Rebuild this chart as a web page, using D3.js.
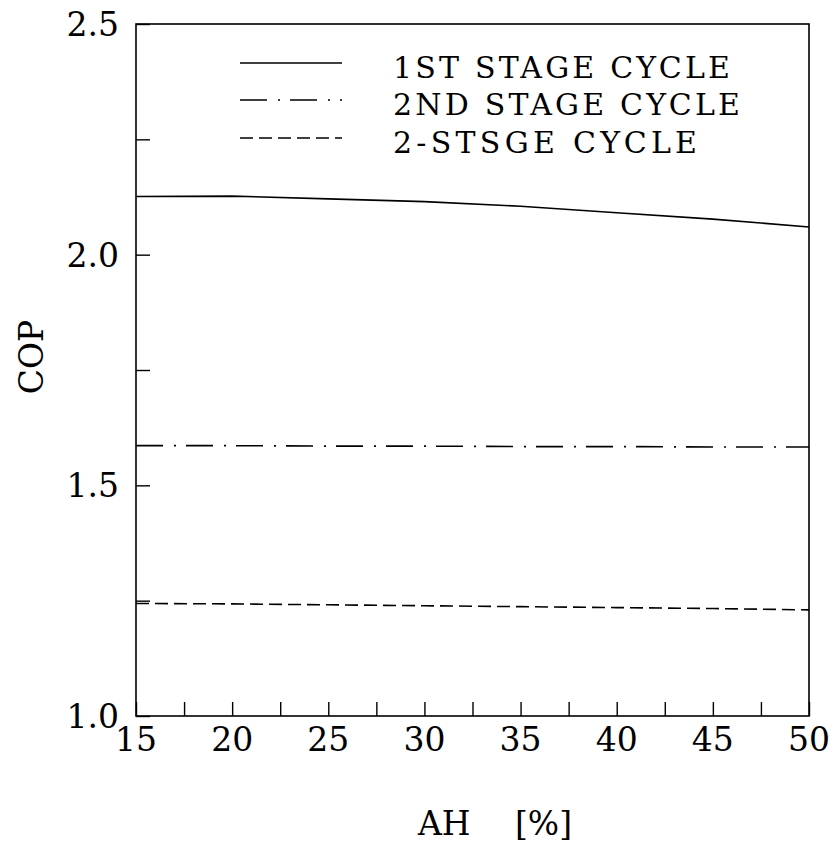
<!DOCTYPE html>
<html>
<head>
<meta charset="utf-8">
<script src="https://cdn.jsdelivr.net/npm/d3@7"></script>
<style>
  html, body { margin: 0; padding: 0; background: #fff; }
  svg { display: block; }
  text { font-family: "DejaVu Serif", "Liberation Serif", serif; fill: #000; }
</style>
</head>
<body>
<script>
// ---- data ----
const ahValues = [15, 20, 25, 30, 35, 40, 45, 50];
const cop1stStage = [2.126, 2.127, 2.121, 2.115, 2.105, 2.091, 2.077, 2.060];
const cop2ndStage = [1.586, 1.586, 1.585, 1.585, 1.584, 1.584, 1.583, 1.583];
const cop2Stage   = [1.244, 1.243, 1.241, 1.239, 1.237, 1.235, 1.233, 1.230];
const seriesNames = ["1ST STAGE CYCLE", "2ND STAGE CYCLE", "2-STSGE CYCLE"];
const xTickValues = [15, 20, 25, 30, 35, 40, 45, 50];
const xMinorTicks = [17.5, 22.5, 27.5, 32.5, 37.5, 42.5, 47.5];
const yTickValues = [1.0, 1.5, 2.0, 2.5];
const yMinorTicks = [1.25, 1.75, 2.25];
const xTitle = "AH";
const xUnit = "[%]";
const yTitle = "COP";

// ---- layout ----
const W = 837, H = 846;
const pLeft = 136, pRight = 809, pTop = 24, pBottom = 716;

const svg = d3.select("body").append("svg").attr("width", W).attr("height", H);

const x = d3.scaleLinear().domain([15, 50]).range([pLeft, pRight]);
const y = d3.scaleLinear().domain([1.0, 2.5]).range([pBottom, pTop]);

// frame
svg.append("rect")
  .attr("x", pLeft).attr("y", pTop)
  .attr("width", pRight - pLeft).attr("height", pBottom - pTop)
  .attr("fill", "none").attr("stroke", "#000").attr("stroke-width", 1.6);

// bottom axis ticks (inward)
const xAxis = d3.axisBottom(x).tickValues(xTickValues.concat(xMinorTicks))
  .tickSizeInner(-14).tickSizeOuter(0).tickFormat("");
const gx = svg.append("g").attr("transform", `translate(0,${pBottom})`).call(xAxis);
gx.select(".domain").remove();
gx.selectAll("line").attr("stroke", "#000").attr("stroke-width", 1.4);

// x tick labels
svg.append("g").selectAll("text").data(xTickValues).join("text")
  .attr("x", d => x(d)).attr("y", pBottom + 35)
  .attr("text-anchor", "middle").attr("font-size", 33)
  .text(d => d3.format("d")(d));

// left axis ticks (inward)
const yAxis = d3.axisLeft(y).tickValues(yTickValues.concat(yMinorTicks))
  .tickSizeInner(-14).tickSizeOuter(0).tickFormat("");
const gy = svg.append("g").attr("transform", `translate(${pLeft},0)`).call(yAxis);
gy.select(".domain").remove();
gy.selectAll("line").attr("stroke", "#000").attr("stroke-width", 1.4);

// y tick labels
svg.append("g").selectAll("text").data(yTickValues).join("text")
  .attr("x", pLeft - 17).attr("y", d => y(d) + 12)
  .attr("text-anchor", "end").attr("font-size", 33)
  .text(d => d3.format(".1f")(d));

// axis titles
svg.append("text").attr("x", 418).attr("y", 835).attr("font-size", 33).text(xTitle);
svg.append("text").attr("x", 515).attr("y", 835).attr("font-size", 33).text(xUnit);
svg.append("text")
  .attr("transform", "translate(43,357) rotate(-90)")
  .attr("text-anchor", "middle").attr("font-size", 33).text(yTitle);

// series lines
const styles = [
  { dash: null },
  { dash: "27,11,2,10" },
  { dash: "13,6" }
];
const seriesData = [cop1stStage, cop2ndStage, cop2Stage];
const line = d3.line().x(d => x(d[0])).y(d => y(d[1]));

seriesData.forEach((vals, i) => {
  const pts = ahValues.map((a, j) => [a, vals[j]]);
  svg.append("path").datum(pts)
    .attr("d", line)
    .attr("fill", "none").attr("stroke", "#000").attr("stroke-width", 1.6)
    .attr("stroke-dasharray", styles[i].dash);
});

// legend
const legendY = [63, 100, 138];
const legendTextLen = [337, 347, 304];
seriesNames.forEach((name, i) => {
  svg.append("line")
    .attr("x1", 240).attr("x2", 342)
    .attr("y1", legendY[i]).attr("y2", legendY[i])
    .attr("stroke", "#000").attr("stroke-width", 1.6)
    .attr("stroke-dasharray", styles[i].dash);
  svg.append("text")
    .attr("x", 393).attr("y", legendY[i] + 15)
    .attr("font-size", 30)
    .attr("textLength", legendTextLen[i]).attr("lengthAdjust", "spacing")
    .text(name);
});
</script>
</body>
</html>
